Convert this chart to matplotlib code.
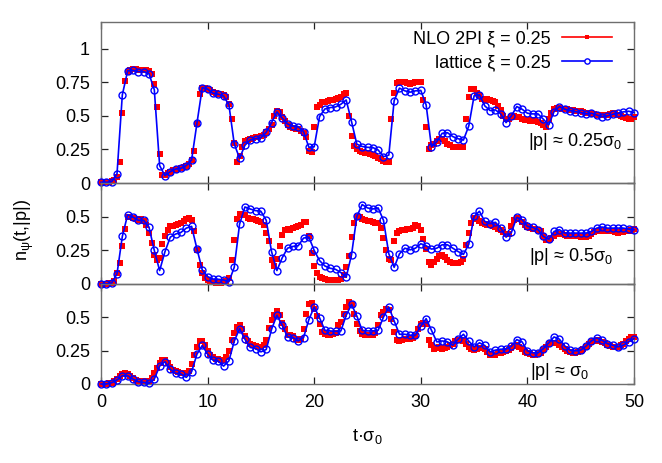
import numpy as np
import matplotlib
matplotlib.use("Agg")
import matplotlib.pyplot as plt
from matplotlib.lines import Line2D

plt.rcParams['font.family'] = ['Liberation Sans', 'DejaVu Sans']
plt.rcParams['mathtext.fontset'] = 'custom'
plt.rcParams['mathtext.rm'] = 'Liberation Sans'
plt.rcParams['mathtext.it'] = 'Liberation Sans'
plt.rcParams['mathtext.bf'] = 'Liberation Sans'
plt.rcParams['mathtext.sf'] = 'Liberation Sans'

# ---------------- data ----------------
t_lat = np.arange(0, 50.001, 0.5)    # lattice time grid
t_nlo = np.arange(0, 50.001, 0.25)   # NLO 2PI time grid

lat_p025 = [
    0.005, 0.005, 0.01, 0.067, 0.657, 0.836, 0.84, 0.83, 0.83, 0.815,
    0.695, 0.13, 0.055, 0.085, 0.104, 0.11, 0.13, 0.172, 0.445, 0.711,
    0.70, 0.669, 0.662, 0.649, 0.582, 0.291, 0.184, 0.281, 0.321, 0.33,
    0.338, 0.378, 0.45, 0.53, 0.483, 0.44, 0.425, 0.42, 0.383, 0.266,
    0.27, 0.495, 0.552, 0.562, 0.567, 0.587, 0.619, 0.458, 0.289, 0.272,
    0.266, 0.264, 0.246, 0.196, 0.208, 0.614, 0.707, 0.687, 0.677, 0.687,
    0.69, 0.582, 0.27, 0.308, 0.37, 0.375, 0.346, 0.33, 0.32, 0.425,
    0.65, 0.657, 0.575, 0.54, 0.545, 0.515, 0.45, 0.5, 0.57, 0.55,
    0.52, 0.515, 0.515, 0.475, 0.433, 0.532, 0.57, 0.55, 0.54, 0.532,
    0.525, 0.515, 0.52, 0.507, 0.495, 0.5, 0.512, 0.52, 0.53, 0.535,
    0.525]

nlo_p025 = [
    0.005, 0.005, 0.005, 0.01, 0.015, 0.025, 0.047, 0.154,
    0.525, 0.76, 0.83, 0.845, 0.85, 0.85, 0.845, 0.845,
    0.845, 0.84, 0.835, 0.81, 0.74, 0.57, 0.216, 0.06,
    0.06, 0.075, 0.085, 0.095, 0.10, 0.105, 0.11, 0.12,
    0.13, 0.14, 0.17, 0.24, 0.44, 0.66, 0.71, 0.705,
    0.70, 0.695, 0.68, 0.67, 0.665, 0.66, 0.655, 0.64,
    0.59, 0.48, 0.30, 0.16, 0.20, 0.27, 0.31, 0.32,
    0.33, 0.335, 0.34, 0.345, 0.35, 0.36, 0.38, 0.40,
    0.43, 0.50, 0.535, 0.53, 0.49, 0.46, 0.435, 0.42,
    0.41, 0.405, 0.40, 0.39, 0.37, 0.34, 0.24, 0.23,
    0.415, 0.57, 0.58, 0.60, 0.605, 0.61, 0.615, 0.62,
    0.625, 0.63, 0.64, 0.665, 0.67, 0.50, 0.35, 0.276,
    0.25, 0.24, 0.23, 0.225, 0.22, 0.215, 0.21, 0.20,
    0.19, 0.18, 0.165, 0.155, 0.16, 0.475, 0.67, 0.745,
    0.755, 0.755, 0.75, 0.745, 0.74, 0.745, 0.75, 0.755,
    0.75, 0.62, 0.416, 0.254, 0.28, 0.29, 0.31, 0.325,
    0.33, 0.31, 0.29, 0.28, 0.272, 0.27, 0.27, 0.27,
    0.27, 0.48, 0.64, 0.70, 0.70, 0.673, 0.657, 0.624,
    0.62, 0.625, 0.62, 0.614, 0.60, 0.575, 0.545, 0.50,
    0.48, 0.48, 0.49, 0.50, 0.495, 0.49, 0.48, 0.47,
    0.47, 0.465, 0.47, 0.462, 0.458, 0.445, 0.433, 0.42,
    0.48, 0.52, 0.55, 0.56, 0.56, 0.555, 0.55, 0.55,
    0.545, 0.545, 0.54, 0.54, 0.535, 0.53, 0.525, 0.52,
    0.52, 0.515, 0.51, 0.51, 0.505, 0.505, 0.51, 0.515,
    0.52, 0.515, 0.51, 0.50, 0.49, 0.485, 0.48, 0.48,
    0.49]

lat_p05 = [
    0.0, 0.0, 0.0075, 0.075, 0.353, 0.515, 0.497, 0.473, 0.473, 0.423,
    0.249, 0.10, 0.24, 0.348, 0.371, 0.383, 0.415, 0.428, 0.261, 0.105,
    0.055, 0.037, 0.035, 0.03, 0.017, 0.124, 0.445, 0.572, 0.557, 0.545,
    0.54, 0.473, 0.24, 0.10, 0.195, 0.266, 0.279, 0.284, 0.341, 0.348,
    0.249, 0.174, 0.134, 0.117, 0.109, 0.085, 0.05, 0.216, 0.502, 0.59,
    0.565, 0.557, 0.565, 0.473, 0.224, 0.124, 0.224, 0.266, 0.254, 0.266,
    0.299, 0.284, 0.259, 0.266, 0.291, 0.291, 0.266, 0.241, 0.22, 0.295,
    0.502, 0.54, 0.465, 0.448, 0.458, 0.415, 0.348, 0.383, 0.495, 0.478,
    0.428, 0.42, 0.403, 0.353, 0.333, 0.39, 0.403, 0.378, 0.378, 0.378,
    0.378, 0.378, 0.39, 0.415, 0.423, 0.415, 0.415, 0.415, 0.415, 0.408,
    0.403]

nlo_p05 = [
    0.0, 0.0, 0.003, 0.005, 0.01, 0.02, 0.085, 0.154,
    0.28, 0.408, 0.497, 0.497, 0.49, 0.48, 0.475, 0.483,
    0.47, 0.44, 0.378, 0.303, 0.216, 0.18, 0.19, 0.30,
    0.353, 0.403, 0.428, 0.432, 0.44, 0.445, 0.45, 0.465,
    0.483, 0.49, 0.478, 0.39, 0.254, 0.142, 0.08, 0.047,
    0.03, 0.02, 0.015, 0.01, 0.01, 0.01, 0.015, 0.02,
    0.042, 0.18, 0.33, 0.483, 0.52, 0.515, 0.51, 0.49,
    0.485, 0.48, 0.478, 0.465, 0.46, 0.44, 0.378, 0.316,
    0.18, 0.13, 0.187, 0.279, 0.366, 0.40, 0.41, 0.403,
    0.415, 0.42, 0.428, 0.44, 0.458, 0.458, 0.353, 0.228,
    0.13, 0.08, 0.055, 0.045, 0.035, 0.03, 0.027, 0.027,
    0.028, 0.03, 0.035, 0.067, 0.124, 0.209, 0.348, 0.453,
    0.50, 0.497, 0.483, 0.475, 0.465, 0.465, 0.46, 0.455,
    0.453, 0.415, 0.341, 0.254, 0.184, 0.18, 0.321, 0.378,
    0.39, 0.40, 0.403, 0.405, 0.408, 0.415, 0.44, 0.428,
    0.403, 0.333, 0.259, 0.167, 0.142, 0.167, 0.184, 0.209,
    0.216, 0.199, 0.18, 0.167, 0.159, 0.157, 0.155, 0.167,
    0.184, 0.29, 0.378, 0.45, 0.49, 0.48, 0.465, 0.455,
    0.448, 0.44, 0.435, 0.43, 0.42, 0.41, 0.40, 0.385,
    0.37, 0.375, 0.428, 0.478, 0.49, 0.485, 0.458, 0.44,
    0.425, 0.415, 0.41, 0.405, 0.40, 0.39, 0.353, 0.328,
    0.328, 0.345, 0.36, 0.37, 0.37, 0.37, 0.365, 0.36,
    0.36, 0.36, 0.355, 0.355, 0.35, 0.35, 0.35, 0.36,
    0.375, 0.385, 0.39, 0.39, 0.39, 0.395, 0.395, 0.39,
    0.39, 0.385, 0.38, 0.385, 0.385, 0.39, 0.395, 0.40,
    0.405]

lat_p1 = [
    0.0, 0.0, 0.01, 0.03, 0.062, 0.062, 0.037, 0.017, 0.012, 0.005,
    0.037, 0.134, 0.167, 0.109, 0.08, 0.075, 0.05, 0.092, 0.224, 0.289,
    0.224, 0.179, 0.172, 0.134, 0.174, 0.321, 0.415, 0.336, 0.274, 0.266,
    0.241, 0.259, 0.41, 0.515, 0.44, 0.353, 0.348, 0.323, 0.348, 0.483,
    0.577, 0.497, 0.403, 0.398, 0.395, 0.398, 0.515, 0.597, 0.51, 0.403,
    0.398, 0.398, 0.403, 0.502, 0.577, 0.473, 0.373, 0.373, 0.366, 0.366,
    0.433, 0.49, 0.403, 0.316, 0.323, 0.316, 0.291, 0.336, 0.373, 0.322,
    0.279, 0.309, 0.289, 0.241, 0.254, 0.261, 0.261, 0.284, 0.333, 0.316,
    0.249, 0.234, 0.234, 0.266, 0.308, 0.353, 0.336, 0.286, 0.254, 0.249,
    0.254, 0.284, 0.323, 0.346, 0.328, 0.303, 0.291, 0.279, 0.291, 0.316,
    0.341]

nlo_p1 = [
    0.0, 0.0, 0.003, 0.005, 0.01, 0.02, 0.04, 0.06,
    0.075, 0.08, 0.075, 0.06, 0.045, 0.03, 0.025, 0.02,
    0.02, 0.02, 0.025, 0.045, 0.08, 0.12, 0.16, 0.18,
    0.18, 0.16, 0.13, 0.105, 0.095, 0.09, 0.085, 0.08,
    0.08, 0.10, 0.15, 0.22, 0.28, 0.32, 0.32, 0.29,
    0.25, 0.22, 0.20, 0.19, 0.185, 0.18, 0.18, 0.20,
    0.25, 0.33, 0.38, 0.43, 0.44, 0.41, 0.36, 0.32,
    0.30, 0.29, 0.285, 0.28, 0.28, 0.29, 0.33, 0.42,
    0.48, 0.52, 0.55, 0.52, 0.46, 0.41, 0.37, 0.365,
    0.36, 0.34, 0.33, 0.34, 0.415, 0.527, 0.60, 0.607,
    0.565, 0.51, 0.45, 0.39, 0.375, 0.37, 0.37, 0.375,
    0.385, 0.44, 0.465, 0.527, 0.577, 0.614, 0.60, 0.527,
    0.453, 0.40, 0.378, 0.37, 0.37, 0.37, 0.37, 0.38,
    0.44, 0.515, 0.54, 0.565, 0.552, 0.49, 0.39, 0.328,
    0.321, 0.33, 0.335, 0.335, 0.34, 0.345, 0.36, 0.415,
    0.453, 0.46, 0.45, 0.333, 0.291, 0.266, 0.27, 0.275,
    0.266, 0.27, 0.28, 0.29, 0.30, 0.32, 0.33, 0.33,
    0.32, 0.30, 0.28, 0.26, 0.255, 0.26, 0.27, 0.27,
    0.26, 0.24, 0.22, 0.215, 0.22, 0.23, 0.235, 0.24,
    0.245, 0.255, 0.27, 0.285, 0.29, 0.28, 0.26, 0.24,
    0.23, 0.225, 0.22, 0.22, 0.225, 0.235, 0.255, 0.28,
    0.30, 0.31, 0.31, 0.305, 0.29, 0.275, 0.26, 0.25,
    0.24, 0.235, 0.235, 0.24, 0.25, 0.265, 0.28, 0.30,
    0.315, 0.325, 0.33, 0.325, 0.315, 0.305, 0.295, 0.285,
    0.28, 0.28, 0.28, 0.29, 0.30, 0.32, 0.34, 0.35,
    0.355]

panel_labels = ['|p| ≈ 0.25σ$_0$', '|p| ≈ 0.5σ$_0$', '|p| ≈ σ$_0$']
legend_labels = ['NLO 2PI ξ = 0.25', 'lattice ξ = 0.25']
x_ticks = [0, 10, 20, 30, 40, 50]

# ---------------- figure ----------------
W, H = 662, 463
fig = plt.figure(figsize=(W / 100, H / 100), dpi=100)

def rect(top_px, bot_px):
    l, r = 101, 634
    return [l / W, 1 - bot_px / H, (r - l) / W, (bot_px - top_px) / H]

axes = [fig.add_axes(rect(22, 183)),
        fig.add_axes(rect(183, 284)),
        fig.add_axes(rect(284, 384))]
ylims = [(0, 1.2), (0, 0.75), (0, 0.75)]
yticks = [[0, 0.25, 0.5, 0.75, 1], [0, 0.25, 0.5], [0, 0.25, 0.5]]
ytlabels = [['0', '0.25', '0.5', '0.75', '1'], ['0', '0.25', '0.5'], ['0', '0.25', '0.5']]

red = '#ff0000'
blue = '#0000ff'
frame = '#6e6e6e'
FS = 13

series = [(nlo_p025, lat_p025), (nlo_p05, lat_p05), (nlo_p1, lat_p1)]
for i, ax in enumerate(axes):
    nlo, lat = series[i]
    ax.plot(t_nlo, nlo, linestyle='none', marker='s', ms=4.2, mew=0,
            color=red, clip_on=False, zorder=3)
    ax.plot(t_lat, lat, linestyle='-', lw=1.2, marker='o', ms=5.0,
            mfc='none', mec=blue, mew=1.0, color=blue, clip_on=False, zorder=4)
    ax.set_xlim(0, 50)
    ax.set_ylim(*ylims[i])
    ax.set_yticks(yticks[i])
    ax.set_yticklabels(ytlabels[i])
    ax.set_xticks(x_ticks)
    ax.tick_params(direction='in', length=5, width=0.9, top=True, right=True,
                   labelsize=FS, color='#222222')
    ax.tick_params(axis='y', pad=8)
    ax.tick_params(axis='x', pad=7.5)
    for s in ax.spines.values():
        s.set_color(frame)
        s.set_linewidth(1.0)
    if i < 2:
        ax.set_xticklabels([])
    ax.set_facecolor('none')

# panel annotations
axes[0].text(0.977, 0.255, panel_labels[0], transform=axes[0].transAxes,
             ha='right', va='center', fontsize=FS)
axes[1].text(0.96, 0.27, panel_labels[1], transform=axes[1].transAxes,
             ha='right', va='center', fontsize=FS)
axes[2].text(0.915, 0.12, panel_labels[2], transform=axes[2].transAxes,
             ha='right', va='center', fontsize=FS)

# legend
handles = [Line2D([], [], color=red, lw=1.2, marker='s', ms=3.4, mew=0),
           Line2D([], [], color=blue, lw=1.2, marker='o', ms=3.8, mfc='white', mec=blue, mew=1.0)]
axes[0].legend(handles, legend_labels, loc='upper right', frameon=False,
               markerfirst=False, fontsize=FS, handlelength=2.75,
               handletextpad=0.65, borderaxespad=0.0, labelspacing=0.4,
               bbox_to_anchor=(0.972, 0.995))

fig.text(24 / W, 1 - 230 / H, 'n$_\\psi$(t,|p|)', rotation=90, ha='center',
         va='center', fontsize=FS)
fig.text(367 / W, 1 - 436 / H, 't·σ$_0$', ha='center', va='center', fontsize=FS)

fig.savefig('out.png', dpi=100)
